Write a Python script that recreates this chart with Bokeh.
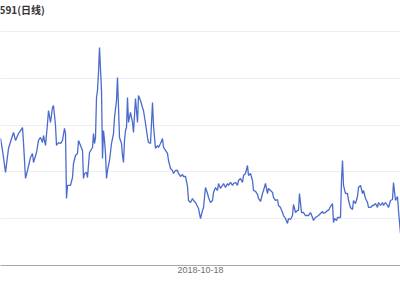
from bokeh.plotting import figure
from bokeh.models import FixedTicker, Label
from bokeh.embed import file_html
from bokeh.resources import INLINE

# trading-day index (as read along the x axis) and close price
day = [0, 2, 5, 8, 12, 13, 15, 18, 22, 23, 25, 27, 30, 32, 33, 36, 38, 40, 42, 43,
       45, 47, 48, 50, 52, 53, 55, 56, 58, 60, 62, 64, 65, 66, 67, 70, 72, 73, 75, 77,
       78, 80, 82, 83, 84, 86, 87, 89, 92, 93, 94, 95, 96, 97, 98, 99, 101, 102, 103, 104,
       105, 106, 107, 109, 111, 113, 114, 116, 117, 118, 119, 121, 122, 123, 124, 125, 126, 127, 128, 130,
       132, 133, 135, 137, 138, 140, 142, 143, 145, 147, 148, 150, 152, 153, 155, 157, 158, 160, 162, 163,
       165, 167, 168, 170, 172, 173, 175, 177, 178, 180, 182, 183, 185, 187, 188, 190, 192, 193, 195, 198,
       200, 202, 203, 205, 207, 208, 210, 212, 213, 215, 217, 218, 220, 222, 223, 225, 227, 228, 230, 232,
       233, 235, 237, 238, 240, 242, 243, 245, 247, 248, 250, 252, 253, 255, 257, 258, 260, 262, 263, 265,
       267, 268, 270, 272, 273, 275, 277, 278, 280, 282, 283, 285, 287, 288, 290, 292, 293, 295, 297, 298,
       299, 301, 303, 305, 308, 310, 312, 313, 315, 318, 320, 322, 323, 325, 327, 328, 330, 332, 333, 334,
       336, 337, 340, 341, 342, 343, 345, 347, 348, 350, 352, 353, 355, 357, 358, 360, 362, 363, 365, 367,
       368, 370, 372, 373, 375, 377, 378, 380, 382, 383, 385, 387, 388, 390, 392, 393, 395, 397, 398, 400]
price = [13.57, 12.29, 9.94, 12.50, 13.89, 14.21, 13.36, 14.10, 14.74, 13.14, 9.30, 10.15, 11.54, 11.97, 11.00, 12.07, 13.36, 13.68, 13.14, 13.89,
         12.82, 15.17, 16.56, 15.28, 16.88, 17.09, 14.96, 12.82, 13.14, 13.03, 13.36, 14.64, 14.10, 7.16, 8.55, 8.55, 9.40, 10.90, 11.75, 11.97,
         13.36, 12.82, 12.29, 9.30, 9.83, 9.94, 9.40, 12.07, 12.61, 14.10, 13.03, 13.68, 17.95, 18.70, 20.62, 23.29, 18.70, 11.43, 14.42, 13.36,
         11.97, 9.30, 10.15, 11.22, 13.03, 14.10, 15.81, 17.63, 20.09, 16.88, 13.68, 13.03, 11.75, 11.00, 13.36, 14.42, 14.74, 17.95, 15.28, 16.35,
         15.28, 14.21, 17.84, 15.28, 18.16, 17.63, 16.88, 16.56, 15.17, 13.68, 13.14, 13.03, 17.41, 14.96, 12.50, 12.82, 12.61, 13.03, 13.57, 12.61,
         12.29, 11.97, 11.22, 10.36, 10.15, 9.83, 10.15, 10.15, 9.83, 9.51, 9.72, 9.51, 9.51, 8.44, 6.94, 6.73, 7.16, 6.94, 6.73, 6.09,
         5.02, 5.88, 6.20, 8.33, 7.69, 7.27, 6.73, 6.94, 7.80, 8.33, 8.01, 8.76, 8.23, 8.55, 8.76, 8.33, 8.76, 8.55, 8.87, 8.55,
         8.76, 8.87, 8.55, 9.08, 9.30, 8.87, 9.62, 9.83, 10.68, 9.62, 9.83, 9.08, 8.01, 7.91, 7.59, 7.16, 6.84, 7.69, 8.01, 8.76,
         7.69, 8.23, 8.01, 7.80, 7.27, 6.94, 7.05, 6.41, 6.20, 5.66, 5.34, 5.02, 4.49, 5.02, 4.91, 5.34, 6.52, 5.66, 5.88, 5.88,
         7.69, 5.66, 5.66, 5.34, 5.34, 5.66, 5.13, 4.81, 5.13, 5.34, 5.56, 5.77, 5.56, 5.66, 5.88, 5.88, 6.30, 6.62, 4.59, 5.02,
         4.81, 5.13, 5.13, 9.08, 11.22, 8.55, 7.69, 7.69, 6.94, 6.20, 5.98, 6.94, 6.62, 7.37, 8.33, 8.55, 7.69, 8.01, 7.16, 6.73,
         6.20, 6.20, 6.41, 6.41, 6.62, 6.20, 6.73, 6.41, 6.73, 6.41, 6.73, 6.41, 6.20, 6.94, 7.05, 8.87, 6.94, 7.37, 5.88, 3.42]

y_ticks = [0, 5, 10, 15, 20, 25]
x_tick_days = [200]
x_tick_labels = ["2018-10-18"]
title_text = "591(日线)"

# frame covers the top of the page; headroom above the top gridline holds the title
p = figure(width=400, height=300, output_backend="svg", toolbar_location=None,
           x_range=(0, 400), y_range=(0, 28.31), title=None,
           min_border_left=0, min_border_right=0, min_border_top=0, min_border_bottom=35)
p.outline_line_color = None
p.background_fill_color = "white"
p.border_fill_color = "white"

p.line(day, price, line_color="#4a6bcc", line_width=1.3)

p.yaxis.visible = False
p.ygrid.ticker = FixedTicker(ticks=y_ticks)
p.ygrid.grid_line_color = "#eceef3"
p.xgrid.grid_line_color = None

xa = p.xaxis[0]
xa.ticker = FixedTicker(ticks=x_tick_days)
xa.major_label_overrides = {d: l for d, l in zip(x_tick_days, x_tick_labels)}
xa.axis_line_color = "#a8a8a8"
xa.major_tick_line_color = None
xa.minor_tick_line_color = None
xa.major_tick_in = 0
xa.major_tick_out = 0
xa.major_label_standoff = 1
xa.major_label_text_font = "Liberation Sans"
xa.major_label_text_font_size = "9px"
xa.major_label_text_color = "#6e7079"

title_label = Label(x=-1, y=264, x_units="screen", y_units="screen", text=title_text,
                    text_baseline="top", text_align="left",
                    text_font="Noto Sans CJK SC", text_font_size="10px",
                    text_font_style="bold", text_color="#333333")
p.add_layout(title_label)

open("out.html", "w").write(file_html(p, INLINE))
